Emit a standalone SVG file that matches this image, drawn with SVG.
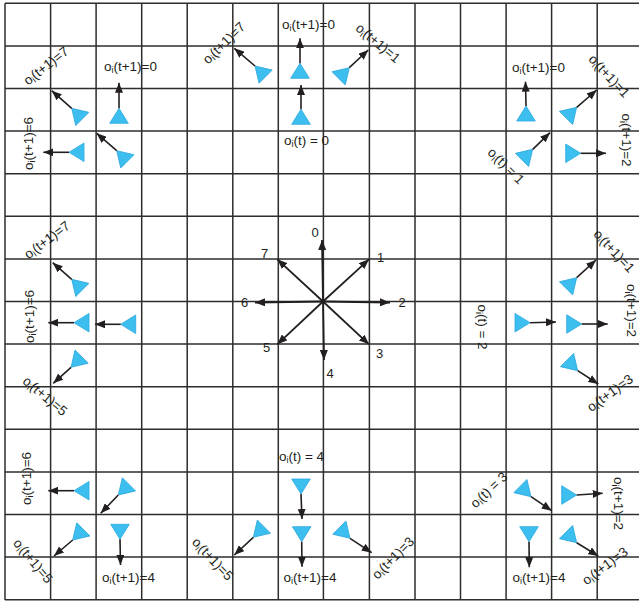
<svg xmlns="http://www.w3.org/2000/svg" xmlns:xlink="http://www.w3.org/1999/xlink" width="639" height="601" viewBox="0 0 639 601">
<style>
.grid line{stroke:#2d2d2d;stroke-width:1.5}
.agent{fill:#3CBFEE;stroke:#2AA8DF;stroke-width:0.8}
.arr{stroke:#231F20;stroke-width:1.6;fill:none;marker-end:url(#ah)}
.star{stroke:#231F20;stroke-width:1.8;fill:none;marker-end:url(#ah)}
.lbl{font-family:"Liberation Sans",Arial,sans-serif;font-size:13.5px;fill:#231F20}
.sub{font-size:9px}
.num{font-family:"Liberation Sans",Arial,sans-serif;font-size:13px;fill:#231F20;text-anchor:middle}
</style>
<defs>
<marker id="ah" markerUnits="userSpaceOnUse" markerWidth="10" markerHeight="8" refX="10" refY="4" orient="auto">
<path d="M0,0 L10,4 L0,8 Z" fill="#231F20"/>
</marker>
<path id="tri" d="M0,-10 L9.3,5 L-9.3,5 Z"/>
</defs>
<rect width="639" height="601" fill="#ffffff"/>
<g class="grid">
<line x1="5" y1="3.3" x2="5" y2="600"/>
<line x1="50.6" y1="3.3" x2="50.6" y2="600"/>
<line x1="96.1" y1="3.3" x2="96.1" y2="600"/>
<line x1="141.7" y1="3.3" x2="141.7" y2="600"/>
<line x1="187.2" y1="3.3" x2="187.2" y2="600"/>
<line x1="232.8" y1="3.3" x2="232.8" y2="600"/>
<line x1="278.3" y1="3.3" x2="278.3" y2="600"/>
<line x1="323.4" y1="3.3" x2="323.4" y2="600"/>
<line x1="369.4" y1="3.3" x2="369.4" y2="600"/>
<line x1="415" y1="3.3" x2="415" y2="600"/>
<line x1="460.5" y1="3.3" x2="460.5" y2="600"/>
<line x1="506.1" y1="3.3" x2="506.1" y2="600"/>
<line x1="551.6" y1="3.3" x2="551.6" y2="600"/>
<line x1="597.2" y1="3.3" x2="597.2" y2="600"/>
<line x1="5" y1="3.3" x2="639" y2="3.3"/>
<line x1="5" y1="45.9" x2="639" y2="45.9"/>
<line x1="5" y1="88.5" x2="639" y2="88.5"/>
<line x1="5" y1="131.1" x2="639" y2="131.1"/>
<line x1="5" y1="173.7" x2="639" y2="173.7"/>
<line x1="5" y1="216.3" x2="639" y2="216.3"/>
<line x1="5" y1="258.9" x2="639" y2="258.9"/>
<line x1="5" y1="301.5" x2="639" y2="301.5"/>
<line x1="5" y1="344.1" x2="639" y2="344.1"/>
<line x1="5" y1="386.7" x2="639" y2="386.7"/>
<line x1="5" y1="429.3" x2="639" y2="429.3"/>
<line x1="5" y1="471.9" x2="639" y2="471.9"/>
<line x1="5" y1="514.5" x2="639" y2="514.5"/>
<line x1="5" y1="557.1" x2="639" y2="557.1"/>
<line x1="5" y1="599.7" x2="639" y2="599.7"/>
</g>
<g id="agents" class="agent">
<g id="tl-a"><use xlink:href="#tri" href="#tri" transform="translate(78.8,115.4) rotate(-45)"/></g>
<g id="tl-b"><use xlink:href="#tri" href="#tri" transform="translate(119,118.3)"/></g>
<g id="tl-c"><use xlink:href="#tri" href="#tri" transform="translate(79,152.3) rotate(-90)"/></g>
<g id="tl-d"><use xlink:href="#tri" href="#tri" transform="translate(123.8,157.8) rotate(-45)"/></g>
<g id="tc-a"><use xlink:href="#tri" href="#tri" transform="translate(262.1,73.1) rotate(-45)"/></g>
<g id="tc-b"><use xlink:href="#tri" href="#tri" transform="translate(300,73.3)"/></g>
<g id="tc-c"><use xlink:href="#tri" href="#tri" transform="translate(342.2,74.8) rotate(45)"/></g>
<g id="tc-d"><use xlink:href="#tri" href="#tri" transform="translate(301,119.3)"/></g>
<g id="tr-a"><use xlink:href="#tri" href="#tri" transform="translate(526,116)"/></g>
<g id="tr-b"><use xlink:href="#tri" href="#tri" transform="translate(569.6,114.4) rotate(45)"/></g>
<g id="tr-c"><use xlink:href="#tri" href="#tri" transform="translate(525.6,156.4) rotate(45)"/></g>
<g id="tr-d"><use xlink:href="#tri" href="#tri" transform="translate(570.7,153.3) rotate(90)"/></g>
<g id="ml-a"><use xlink:href="#tri" href="#tri" transform="translate(78.8,286.4) rotate(-45)"/></g>
<g id="ml-b"><use xlink:href="#tri" href="#tri" transform="translate(84,322.7) rotate(-90)"/></g>
<g id="ml-c"><use xlink:href="#tri" href="#tri" transform="translate(130.7,324.3) rotate(-90)"/></g>
<g id="ml-d"><use xlink:href="#tri" href="#tri" transform="translate(78.1,360.2) rotate(-135)"/></g>
<g id="mr-a"><use xlink:href="#tri" href="#tri" transform="translate(569.6,284.8) rotate(45)"/></g>
<g id="mr-b"><use xlink:href="#tri" href="#tri" transform="translate(520,322.7) rotate(90)"/></g>
<g id="mr-c"><use xlink:href="#tri" href="#tri" transform="translate(571.7,324) rotate(90)"/></g>
<g id="mr-d"><use xlink:href="#tri" href="#tri" transform="translate(570.6,363.6) rotate(135)"/></g>
<g id="bl-a"><use xlink:href="#tri" href="#tri" transform="translate(84,490.7) rotate(-90)"/></g>
<g id="bl-b"><use xlink:href="#tri" href="#tri" transform="translate(125.4,487.9) rotate(-135)"/></g>
<g id="bl-c"><use xlink:href="#tri" href="#tri" transform="translate(79.8,532.9) rotate(-135)"/></g>
<g id="bl-d"><use xlink:href="#tri" href="#tri" transform="translate(120,529.3) rotate(180)"/></g>
<g id="bc-a"><use xlink:href="#tri" href="#tri" transform="translate(301,484) rotate(180)"/></g>
<g id="bc-b"><use xlink:href="#tri" href="#tri" transform="translate(260.4,530.2) rotate(-135)"/></g>
<g id="bc-c"><use xlink:href="#tri" href="#tri" transform="translate(301.7,531.7) rotate(180)"/></g>
<g id="bc-d"><use xlink:href="#tri" href="#tri" transform="translate(342.9,531.2) rotate(135)"/></g>
<g id="br-a"><use xlink:href="#tri" href="#tri" transform="translate(523.9,489.6) rotate(135)"/></g>
<g id="br-b"><use xlink:href="#tri" href="#tri" transform="translate(566.7,495) rotate(90)"/></g>
<g id="br-c"><use xlink:href="#tri" href="#tri" transform="translate(529,531.7) rotate(180)"/></g>
<g id="br-d"><use xlink:href="#tri" href="#tri" transform="translate(569.6,535.6) rotate(135)"/></g>
</g>
<g id="connectors">
<line class="arr" x1="71.7" y1="108.3" x2="51.7" y2="90.7"/>
<line class="arr" x1="119" y1="108.3" x2="119" y2="82.7"/>
<line class="arr" x1="69" y1="152.3" x2="43.3" y2="152.3"/>
<line class="arr" x1="116.7" y1="150.7" x2="96.7" y2="133.3"/>
<line class="arr" x1="255" y1="66" x2="234.3" y2="48.3"/>
<line class="arr" x1="300" y1="63.3" x2="300" y2="38.3"/>
<line class="arr" x1="349.3" y1="67.7" x2="368.3" y2="50"/>
<line class="arr" x1="301" y1="109.3" x2="301" y2="85"/>
<line class="arr" x1="526" y1="106" x2="525.5" y2="81.7"/>
<line class="arr" x1="576.7" y1="107.3" x2="596.7" y2="90"/>
<line class="arr" x1="532.7" y1="149.3" x2="550" y2="132.7"/>
<line class="arr" x1="580.7" y1="153.3" x2="606" y2="153.3"/>
<line class="arr" x1="71.7" y1="279.3" x2="52.7" y2="262.7"/>
<line class="arr" x1="74" y1="322.7" x2="48.3" y2="322.7"/>
<line class="arr" x1="120.7" y1="324.3" x2="95" y2="324.3"/>
<line class="arr" x1="71" y1="367.3" x2="53.3" y2="383.3"/>
<line class="arr" x1="576.7" y1="277.7" x2="596" y2="260"/>
<line class="arr" x1="530" y1="322.7" x2="556" y2="322"/>
<line class="arr" x1="581.7" y1="324" x2="607.7" y2="324"/>
<line class="arr" x1="577.7" y1="370.7" x2="598.3" y2="384"/>
<line class="arr" x1="74" y1="490.7" x2="48.3" y2="490.7"/>
<line class="arr" x1="118.3" y1="495" x2="100.7" y2="513.3"/>
<line class="arr" x1="72.7" y1="540" x2="54" y2="556"/>
<line class="arr" x1="120" y1="539.3" x2="120.5" y2="565"/>
<line class="arr" x1="301" y1="494" x2="302" y2="519"/>
<line class="arr" x1="253.3" y1="537.3" x2="234.3" y2="555"/>
<line class="arr" x1="301.7" y1="541.7" x2="302" y2="566.7"/>
<line class="arr" x1="350" y1="538.3" x2="371.7" y2="552.7"/>
<line class="arr" x1="531" y1="496.7" x2="551.7" y2="510.7"/>
<line class="arr" x1="576.7" y1="495" x2="602.7" y2="493.3"/>
<line class="arr" x1="529" y1="541.7" x2="529.3" y2="567.3"/>
<line class="arr" x1="576.7" y1="542.7" x2="598.3" y2="556"/>
</g>
<g id="compass">
<line class="star" x1="323" y1="301.5" x2="322" y2="240"/>
<line class="star" x1="323" y1="301.5" x2="369" y2="259.3"/>
<line class="star" x1="323" y1="301.5" x2="390" y2="302.5"/>
<line class="star" x1="323" y1="301.5" x2="369" y2="344.3"/>
<line class="star" x1="323" y1="301.5" x2="324" y2="360"/>
<line class="star" x1="323" y1="301.5" x2="277.3" y2="344.3"/>
<line class="star" x1="323" y1="301.5" x2="255" y2="302.5"/>
<line class="star" x1="323" y1="301.5" x2="277.3" y2="259.3"/>
<text class="num" x="315" y="236.5">0</text>
<text class="num" x="380.5" y="261.5">1</text>
<text class="num" x="402" y="306.5">2</text>
<text class="num" x="379.5" y="357.5">3</text>
<text class="num" x="330" y="378">4</text>
<text class="num" x="266.5" y="351.5">5</text>
<text class="num" x="244.5" y="306.5">6</text>
<text class="num" x="264.5" y="258">7</text>
</g>
<g id="labels" class="lbl" text-anchor="middle">
<text transform="translate(46,66) rotate(-38)" y="4.5">o<tspan class="sub" dy="2">i</tspan><tspan dy="-2">(t+1)=7</tspan></text>
<text x="130.5" y="70.5">o<tspan class="sub" dy="2">i</tspan><tspan dy="-2">(t+1)=0</tspan></text>
<text transform="translate(28.5,143.5) rotate(-90)" y="4.5">o<tspan class="sub" dy="2">i</tspan><tspan dy="-2">(t+1)=6</tspan></text>
<text transform="translate(224,43) rotate(-44)" y="4.5">o<tspan class="sub" dy="2">i</tspan><tspan dy="-2">(t+1)=7</tspan></text>
<text x="308.5" y="28.5">o<tspan class="sub" dy="2">i</tspan><tspan dy="-2">(t+1)=0</tspan></text>
<text transform="translate(378,43) rotate(40)" y="4.5">o<tspan class="sub" dy="2">i</tspan><tspan dy="-2">(t+1)=1</tspan></text>
<text x="306.5" y="145">o<tspan class="sub" dy="2">i</tspan><tspan dy="-2">(t) = 0</tspan></text>
<text x="538.5" y="72">o<tspan class="sub" dy="2">i</tspan><tspan dy="-2">(t+1)=0</tspan></text>
<text transform="translate(609,76) rotate(47)" y="4.5">o<tspan class="sub" dy="2">i</tspan><tspan dy="-2">(t+1)=1</tspan></text>
<text transform="translate(626,140) rotate(90)" y="4.5">o<tspan class="sub" dy="2">i</tspan><tspan dy="-2">(t+1)=2</tspan></text>
<text transform="translate(506,166) rotate(45)" y="4.5">o<tspan class="sub" dy="2">i</tspan><tspan dy="-2">(t) = 1</tspan></text>
<text transform="translate(47,240) rotate(-37)" y="4.5">o<tspan class="sub" dy="2">i</tspan><tspan dy="-2">(t+1)=7</tspan></text>
<text transform="translate(29,316.5) rotate(-90)" y="4.5">o<tspan class="sub" dy="2">i</tspan><tspan dy="-2">(t+1)=6</tspan></text>
<text transform="translate(45,396) rotate(40)" y="4.5">o<tspan class="sub" dy="2">i</tspan><tspan dy="-2">(t+1)=5</tspan></text>
<text transform="translate(614,251) rotate(47)" y="4.5">o<tspan class="sub" dy="2">i</tspan><tspan dy="-2">(t+1)=1</tspan></text>
<text transform="translate(631,310.5) rotate(90)" y="4.5">o<tspan class="sub" dy="2">i</tspan><tspan dy="-2">(t+1)=2</tspan></text>
<text transform="translate(482.5,327) rotate(90)" y="4.5">o<tspan class="sub" dy="2">i</tspan><tspan dy="-2">(t) = 2</tspan></text>
<text transform="translate(610,393) rotate(-36)" y="4.5">o<tspan class="sub" dy="2">i</tspan><tspan dy="-2">(t+1)=3</tspan></text>
<text transform="translate(26.5,478.5) rotate(-90)" y="4.5">o<tspan class="sub" dy="2">i</tspan><tspan dy="-2">(t+1)=6</tspan></text>
<text transform="translate(33,561) rotate(50)" y="4.5">o<tspan class="sub" dy="2">i</tspan><tspan dy="-2">(t+1)=5</tspan></text>
<text x="128.5" y="582">o<tspan class="sub" dy="2">i</tspan><tspan dy="-2">(t+1)=4</tspan></text>
<text x="301.5" y="460.5">o<tspan class="sub" dy="2">i</tspan><tspan dy="-2">(t) = 4</tspan></text>
<text transform="translate(212.5,559) rotate(47)" y="4.5">o<tspan class="sub" dy="2">i</tspan><tspan dy="-2">(t+1)=5</tspan></text>
<text x="310" y="582">o<tspan class="sub" dy="2">i</tspan><tspan dy="-2">(t+1)=4</tspan></text>
<text transform="translate(393,558) rotate(-45)" y="4.5">o<tspan class="sub" dy="2">i</tspan><tspan dy="-2">(t+1)=3</tspan></text>
<text transform="translate(489,490) rotate(-43)" y="4.5">o<tspan class="sub" dy="2">i</tspan><tspan dy="-2">(t) = 3</tspan></text>
<text transform="translate(618,503.5) rotate(90)" y="4.5">o<tspan class="sub" dy="2">i</tspan><tspan dy="-2">(t+1)=2</tspan></text>
<text x="539" y="582">o<tspan class="sub" dy="2">i</tspan><tspan dy="-2">(t+1)=4</tspan></text>
<text transform="translate(605,566) rotate(-37)" y="4.5">o<tspan class="sub" dy="2">i</tspan><tspan dy="-2">(t+1)=3</tspan></text>
</g>
</svg>
